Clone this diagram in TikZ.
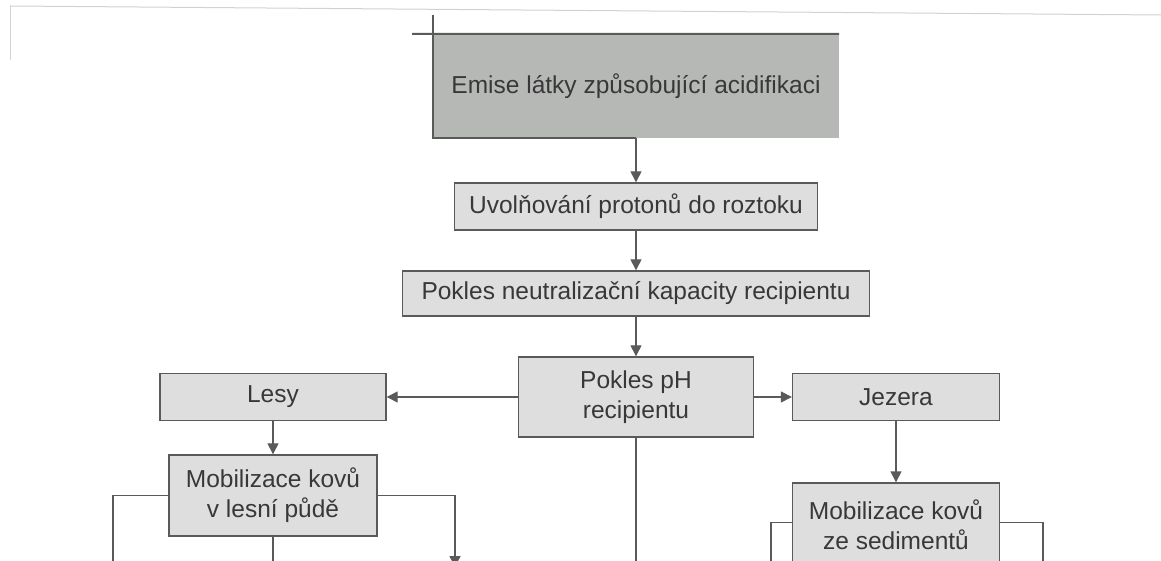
\documentclass[tikz,border=0pt]{standalone}
\usepackage{fontspec}
\setmainfont{Liberation Sans}
\usetikzlibrary{arrows.meta}
\definecolor{boxfill}{HTML}{DEDEDE}
\definecolor{topfill}{HTML}{B6B8B6}
\definecolor{edge}{HTML}{5A5A5A}
\definecolor{ink}{HTML}{383838}
\definecolor{pageedge}{HTML}{D2D2D2}
\tikzset{
  box/.style={draw=edge, line width=1.4bp, fill=boxfill, text=ink, align=center,
    inner sep=0pt, font=\fontsize{24.5bp}{30bp}\selectfont},
  topbox/.style={fill=topfill, draw=none, text=ink, align=center, inner sep=0pt,
    font=\fontsize{24.5bp}{30bp}\selectfont},
  link/.style={draw=edge, line width=1.4bp},
  arr/.style={link, -{Triangle[length=11bp,width=11bp]}},
}
\begin{document}
\begin{tikzpicture}[x=1bp,y=-1bp]
\useasboundingbox (0,0) rectangle (1161,561);
\fill[white] (0,0) rectangle (1161,561);
\clip (0,0) rectangle (1161,561);
% scanned page edge
\draw[pageedge, line width=1bp] (10,6) -- (1161,15);
\draw[pageedge, line width=1bp] (10,6) -- (10,60);
% nodes
\node[topbox, minimum width=406bp, minimum height=104bp] (emise) at (636,86) {Emise látky způsobující acidifikaci};
\draw[link, line width=2bp] (412,34) -- (emise.north east);
\draw[link] (emise.north west |- 0,15) -- (emise.south west) -- (emise.south);
\node[box, minimum width=363bp, minimum height=47bp] (uvol) at (636,206.5) {Uvolňování protonů do roztoku};
\node[box, minimum width=467bp, minimum height=45bp] (neutral) at (636,293.5) {Pokles neutralizační kapacity recipientu};
\node[box, minimum width=235bp, minimum height=80bp] (ph) at (636,397) {Pokles pH\\recipientu};
\node[box, minimum width=226bp, minimum height=47bp] (lesy) at (273,397) {Lesy};
\node[box, minimum width=207bp, minimum height=47bp] (jezera) at (896,397) {Jezera};
\node[box, minimum width=208bp, minimum height=81bp] (moblesni) at (273,495.5) {Mobilizace kovů\\v lesní půdě};
\node[box, minimum width=207bp, minimum height=84bp] (mobsed) at (896,525) {Mobilizace kovů\\ze sedimentů};
% free ends at the cut bottom edge
\coordinate (l1) at (113,570);
\coordinate (l2) at (273,570);
\coordinate (l3) at (455,567);
\coordinate (c1) at (636,570);
\coordinate (s1) at (771,570);
\coordinate (s2) at (1043,570);
% connectors
\draw[arr] (emise.south) -- (uvol.north);
\draw[arr] (uvol.south) -- (neutral.north);
\draw[arr] (neutral.south) -- (ph.north);
\draw[arr] (ph.west) -- (lesy.east);
\draw[arr] (ph.east) -- (jezera.west);
\draw[arr] (lesy.south) -- (moblesni.north);
\draw[arr] (jezera.south) -- (mobsed.north);
\draw[link] (ph.south) -- (c1);
\draw[link] (moblesni.west) -| (l1);
\draw[link] (moblesni.south) -- (l2);
\draw[arr] (moblesni.east) -| (l3);
\draw[link] ([yshift=2.5bp]mobsed.west) -| (s1);
\draw[link] ([yshift=2.5bp]mobsed.east) -| (s2);
\end{tikzpicture}
\end{document}
